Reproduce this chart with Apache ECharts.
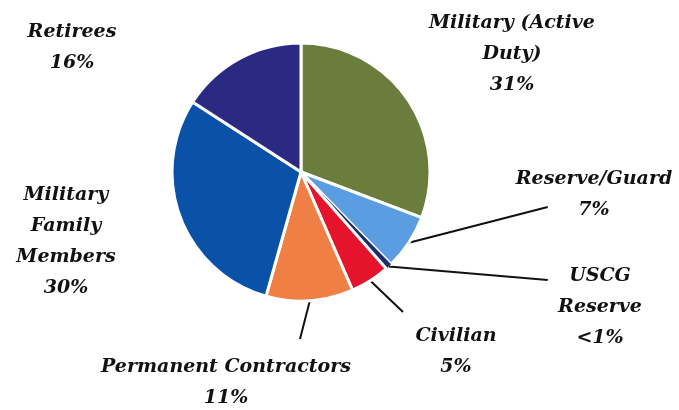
<!DOCTYPE html>
<html>
<head>
<meta charset="utf-8">
<script src="https://cdn.jsdelivr.net/npm/echarts@6/dist/echarts.min.js"></script>
<style>
  html, body { margin: 0; background: #fff; }
  #chart { width: 679px; height: 410px; }
</style>
</head>
<body>
<div id="chart"></div>
<script>
  var groups = ['Military (Active\nDuty)', 'Reserve/Guard', 'USCG\nReserve', 'Civilian', 'Permanent Contractors', 'Military\nFamily\nMembers', 'Retirees']
  var shares = [31, 7, 0.8, 5, 11, 30, 16]
  var shareLabels = ['31%', '7%', '<1%', '5%', '11%', '30%', '16%']

  var colors = ['#6a7d3c', '#5a9de0', '#1c2f6c', '#e5132b', '#f07f45', '#0a52a8', '#2a2a82']
  // where each label block sits (center x, middle y)
  var labelSpots = [[512, 54], [594, 195], [600, 307], [456, 352], [226, 383], [66, 242], [72, 48]]
  // where the leader lines stop (null = no line)
  var lineEnds = [null, [548, 207], [548, 280], [403, 313], [300, 340], null, null]

  var chart = echarts.init(document.getElementById('chart'))

  var pieBase = {
    type: 'pie',
    center: [301, 172],
    radius: 129,
    startAngle: 90,
    clockwise: true,
    silent: true,
    avoidLabelOverlap: false
  }

  var option = {
    animation: false,
    series: [
      Object.assign({}, pieBase, {
        itemStyle: { borderColor: '#fff', borderWidth: 3 },
        label: {
          show: true,
          position: 'outside',
          formatter: function (p) {
            return p.name + '\n' + shareLabels[p.dataIndex]
          },
          fontFamily: 'DejaVu Serif',
          fontStyle: 'italic',
          fontWeight: 'bold',
          fontSize: 19,
          lineHeight: 31,
          color: '#111',
          align: 'center'
        },
        labelLine: { show: false },
        labelLayout: function (p) {
          var s = labelSpots[p.dataIndex]
          return { x: s[0], y: s[1], align: 'center', verticalAlign: 'middle' }
        },
        data: groups.map(function (g, i) {
          return {
            name: g,
            value: shares[i],
            itemStyle: { color: colors[i], borderWidth: i === 2 ? 0 : 3 }
          }
        })
      }),
      // same slices again, invisible, only to hang the leader lines on
      Object.assign({}, pieBase, {
        itemStyle: { color: 'rgba(0,0,0,0)', borderWidth: 0 },
        label: {
          show: true,
          position: 'outside',
          formatter: ' ',
          fontSize: 2,
          color: 'rgba(0,0,0,0)'
        },
        labelLine: {
          show: true,
          length: 4,
          length2: 0,
          smooth: false,
          lineStyle: { color: '#111', width: 2 }
        },
        labelLayout: function (p) {
          var e = lineEnds[p.dataIndex]
          if (!e) return {}
          return { x: e[0], y: e[1], align: 'center', verticalAlign: 'middle' }
        },
        data: groups.map(function (g, i) {
          var on = !!lineEnds[i]
          return {
            name: g,
            value: shares[i],
            label: { show: on },
            labelLine: { show: on }
          }
        })
      })
    ]
  }
  chart.setOption(option)
</script>
</body>
</html>
